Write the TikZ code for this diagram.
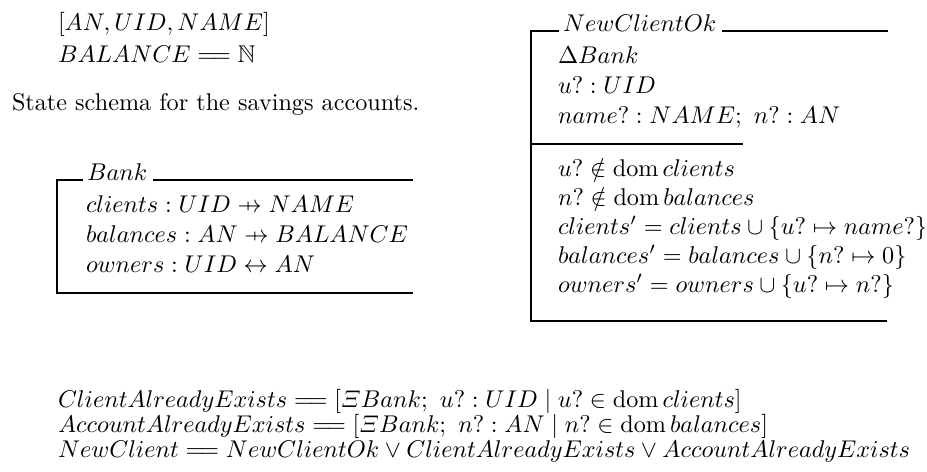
\documentclass[tikz,border=0pt]{standalone}
\usepackage{amsmath,amssymb}
% Z notation helpers
\newcommand{\pfunarrow}{\mathrel{\ooalign{\hfil$\mapstochar\mkern5mu$\hfil\cr$\rightarrow$\cr}}}
\newcommand{\zdom}{\mathop{\mathrm{dom}}}
\newcommand{\abbrev}{\mathrel{=\!=}}
\tikzset{
  ztext/.style={anchor=base west, inner sep=0pt, outer sep=0pt},
  zrule/.style={line width=0.45pt, black},
}
\begin{document}
\begin{tikzpicture}[x=0.4132pt, y=-0.4132pt]
\useasboundingbox (0,0) rectangle (927,471);

% basic types and abbreviation
\node[ztext] (given) at (58,30) {$[AN, UID, NAME]$};
\node[ztext] (bal) at (58,62) {$BALANCE \abbrev \mathbb{N}$};
\node[ztext] (intro) at (12,110) {State schema for the savings accounts.};

% schema Bank
\node[ztext] (bankname) at (87,180) {$Bank$};
\node[ztext] (b1) at (86,212) {$clients : UID \pfunarrow NAME$};
\node[ztext] (b2) at (86,242) {$balances : AN \pfunarrow BALANCE$};
\node[ztext] (b3) at (86,272) {$owners : UID \leftrightarrow AN$};
\draw[zrule] ([xshift=-1.6pt]bankname.base west) -- (57,180) -- (57,293) -- (413,293);
\draw[zrule] ([xshift=2.2pt]bankname.base east) -- (413,180);

% schema NewClientOk
\node[ztext] (ncname) at (563,31) {$NewClientOk$};
\node[ztext] (d1) at (558,63) {$\Delta Bank$};
\node[ztext] (d2) at (558,93) {$u? : UID$};
\node[ztext] (d3) at (558,123) {$name? : NAME;\ n? : AN$};
\node[ztext] (p1) at (558,176) {$u? \notin \zdom clients$};
\node[ztext] (p2) at (558,205) {$n? \notin \zdom balances$};
\node[ztext] (p3) at (558,234) {$clients' = clients \cup \{u? \mapsto name?\}$};
\node[ztext] (p4) at (558,263) {$balances' = balances \cup \{n? \mapsto 0\}$};
\node[ztext] (p5) at (558,292) {$owners' = owners \cup \{u? \mapsto n?\}$};
\draw[zrule] ([xshift=-1.6pt]ncname.base west) -- (531,31) -- (531,321) -- (887,321);
\draw[zrule] ([xshift=2.2pt]ncname.base east) -- (888,31);
\draw[zrule] (531,144) -- (743,144);

% error cases and total operation
\node[ztext] (e1) at (58,407) {$ClientAlreadyExists \abbrev [\varXi Bank;\ u? : UID \mid u? \in \zdom clients]$};
\node[ztext] (e2) at (58,432) {$AccountAlreadyExists \abbrev [\varXi Bank;\ n? : AN \mid n? \in \zdom balances]$};
\node[ztext] (e3) at (58,457) {$NewClient \abbrev NewClientOk \lor ClientAlreadyExists \lor AccountAlreadyExists$};
\end{tikzpicture}
\end{document}
